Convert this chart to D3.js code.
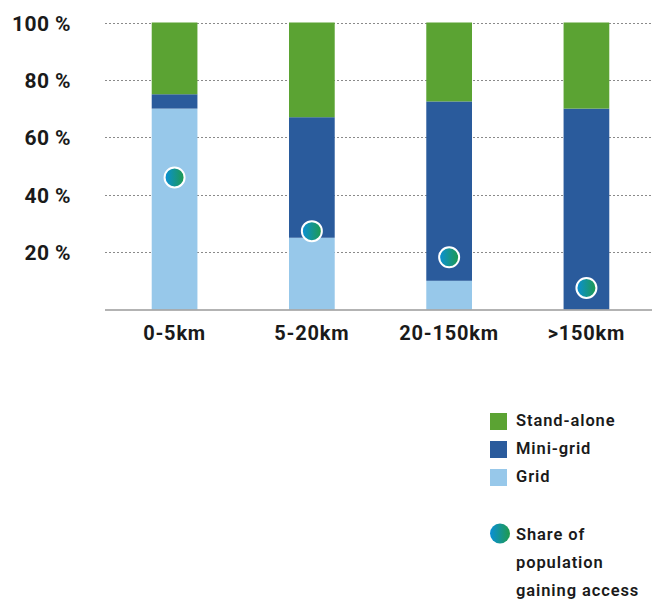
<!DOCTYPE html>
<html><head><meta charset="utf-8">
<script src="https://cdn.jsdelivr.net/npm/d3@7"></script>
<style>body{margin:0;background:#fff}svg{display:block}text{font-family:Roboto,"Liberation Sans",sans-serif;font-weight:700;fill:#1a1a1a}</style>
</head><body><svg id="c" width="660" height="600"></svg>
<script>
const categories = ["0-5km","5-20km","20-150km",">150km"];
const grid = [70,25,10,0];
const miniGrid = [5,42,62.5,70];
const standAlone = [25,33,27.5,30];
const share = [46,27.3,18.2,7.5];
const yTicks = [20,40,60,80,100];
const seriesNames = ["Stand-alone","Mini-grid","Grid"];
const colors = {"Grid":"#97c8ea","Mini-grid":"#2a5b9c","Stand-alone":"#5ba333"};

const svg = d3.select("#c");
const defs = svg.append("defs");
const lg = defs.append("linearGradient").attr("id","dotg").attr("x1","0").attr("x2","1").attr("y1","0").attr("y2","0");
lg.append("stop").attr("offset","0").attr("stop-color","#0a8fd8");
lg.append("stop").attr("offset","1").attr("stop-color","#1f9a4c");

const x = d3.scaleBand().domain(categories).range([106,655]).paddingInner(0.667).paddingOuter(0.333);
const y = d3.scaleLinear().domain([0,100]).range([309.5,22.5]);

svg.append("g").selectAll("line").data(yTicks).join("line")
  .attr("x1",105).attr("x2",652).attr("y1",d=>Math.round(y(d))+0.5).attr("y2",d=>Math.round(y(d))+0.5)
  .attr("stroke","#8a8a8a").attr("stroke-width",1).attr("stroke-dasharray","2,2");

const yAxis = d3.axisLeft(y).tickValues(yTicks).tickSize(0).tickPadding(0).tickFormat(d=>d+" %");
const ga = svg.append("g").attr("transform","translate(71,0)").call(yAxis);
ga.select(".domain").remove();
ga.selectAll("text").style("font-size","21px").style("font-family","Roboto,sans-serif").style("font-weight","700").style("letter-spacing","0.4px").attr("fill","#1a1a1a").attr("dy","0.36em");

const rows = categories.map((c,i)=>({cat:c,"Grid":grid[i],"Mini-grid":miniGrid[i],"Stand-alone":standAlone[i]}));
const stack = d3.stack().keys(["Grid","Mini-grid","Stand-alone"])(rows);
svg.append("g").selectAll("g").data(stack).join("g").attr("fill",d=>colors[d.key])
  .selectAll("rect").data(d=>d).join("rect")
  .attr("x",d=>x(d.data.cat)).attr("width",x.bandwidth())
  .attr("y",d=>y(d[1])).attr("height",d=>y(d[0])-y(d[1]));

svg.append("line").attr("x1",105).attr("x2",652).attr("y1",310).attr("y2",310).attr("stroke","#9a9a9a").attr("stroke-width",1.5);

const xAxis = d3.axisBottom(x).tickSize(0).tickPadding(0);
const gx = svg.append("g").attr("transform","translate(0,326)").call(xAxis);
gx.select(".domain").remove();
gx.selectAll("text").style("font-size","20px").style("font-family","Roboto,sans-serif").style("font-weight","700").style("letter-spacing","0.8px").attr("fill","#1a1a1a").attr("dy","0.71em");

svg.append("g").selectAll("circle").data(categories).join("circle")
  .attr("cx",d=>x(d)+x.bandwidth()/2).attr("cy",(d,i)=>y(share[i])).attr("r",10)
  .attr("fill","url(#dotg)").attr("stroke","#fff").attr("stroke-width",2);

const lgd = svg.append("g");
seriesNames.forEach((n,i)=>{
  lgd.append("rect").attr("x",490).attr("y",413+i*28).attr("width",17).attr("height",17).attr("fill",colors[n]);
  lgd.append("text").attr("x",516).attr("y",426+i*28).style("font-size","16.5px").style("font-weight","600").style("letter-spacing","0.9px").text(n);
});
lgd.append("circle").attr("cx",500).attr("cy",533.5).attr("r",10).attr("fill","url(#dotg)");
["Share of","population","gaining access"].forEach((t,i)=>{
  lgd.append("text").attr("x",516).attr("y",540+i*28).style("font-size","16.5px").style("font-weight","600").style("letter-spacing","0.9px").text(t);
});
</script></body></html>
